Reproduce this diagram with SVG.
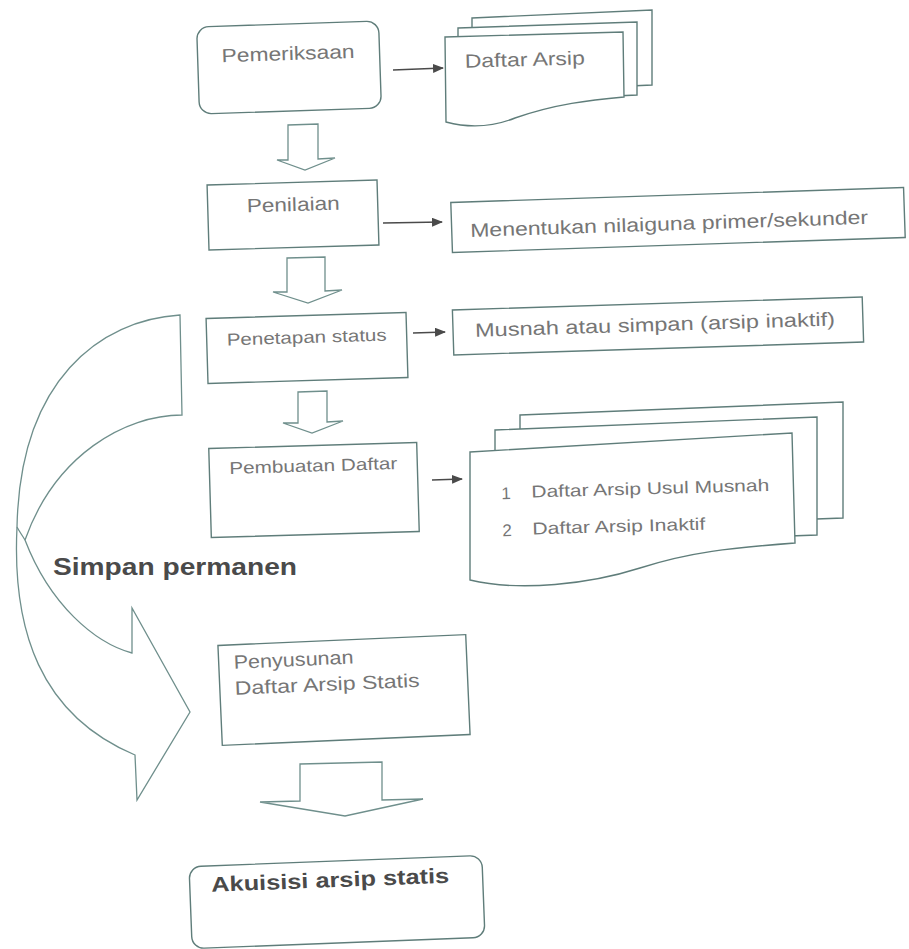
<svg xmlns="http://www.w3.org/2000/svg" width="909" height="949" viewBox="0 0 909 949">
<style>
.box{fill:#fff;stroke:#5f7d7a;stroke-width:1.4}
.shape{fill:#fff;stroke:#6f8f8c;stroke-width:1.3;stroke-linejoin:miter}
.line{fill:none;stroke:#6f8f8c;stroke-width:1.3}
.t{font-family:"Liberation Sans",Arial,sans-serif;fill:#767676}
.b{font-family:"Liberation Sans",Arial,sans-serif;font-weight:bold;fill:#4a4a4a}
.conn{stroke:#4a4a4a;stroke-width:1.6;fill:none}
</style>
<defs>
<marker id="ah" markerUnits="userSpaceOnUse" markerWidth="11" markerHeight="9" refX="10" refY="4.5" orient="auto">
<path d="M0,0 L11,4.5 L0,9 Z" fill="#4a4a4a"/>
</marker>
</defs>
<rect width="909" height="949" fill="#fff"/>

<g id="curved-arrow">
<path class="shape" d="M180,315 C100,320 20,380 17,527 C12,630 40,715 135,755 L137,800 L190,712 L132,608 L132,653 C95,643 50,605 25,540 C55,455 125,415 182,415 Z"/>
<path class="line" d="M25,540 C22,535 19,531 17,527"/>
</g>

<g id="pemeriksaan" transform="rotate(-1.9 289 67)">
<rect class="box" x="198" y="24" width="182" height="87" rx="12"/>
<text class="t" x="222" y="60" font-size="19" textLength="133" lengthAdjust="spacingAndGlyphs">Pemeriksaan</text>
</g>

<g id="daftar-arsip">
<path class="box" d="M472,18 L652,10 L652,85 L472,93 Z"/>
<path class="box" d="M458,28 L637,22 L637,95 L458,103 Z"/>
<path class="box" d="M445,37 L623,32 L624,97 C590,100 555,104 515,118 C490,128 465,127 446,122 Z"/>
<text class="t" x="465" y="66" font-size="19" textLength="120" lengthAdjust="spacingAndGlyphs" transform="rotate(-1.6 525 66)">Daftar Arsip</text>
</g>

<g id="penilaian" transform="rotate(-1.7 293 215)">
<rect class="box" x="208" y="182.5" width="170" height="65"/>
<text class="t" x="247" y="211" font-size="19" textLength="93" lengthAdjust="spacingAndGlyphs">Penilaian</text>
</g>

<g id="menentukan" transform="rotate(-1.9 678 220)">
<rect class="box" x="451.5" y="195" width="453" height="50"/>
<text class="t" x="470" y="230" font-size="19" textLength="398" lengthAdjust="spacingAndGlyphs">Menentukan nilaiguna primer/sekunder</text>
</g>

<g id="penetapan" transform="rotate(-1.7 307 348)">
<rect class="box" x="207" y="315.5" width="200" height="65"/>
<text class="t" x="227" y="343" font-size="17" textLength="160" lengthAdjust="spacingAndGlyphs">Penetapan status</text>
</g>

<g id="musnah" transform="rotate(-1.8 658 326)">
<rect class="box" x="453" y="303.5" width="410" height="45"/>
<text class="t" x="475" y="331" font-size="19" textLength="360" lengthAdjust="spacingAndGlyphs">Musnah atau simpan (arsip inaktif)</text>
</g>

<g id="pembuatan" transform="rotate(-1.65 314 490)">
<rect class="box" x="210" y="445.5" width="208" height="89"/>
<text class="t" x="230" y="471.5" font-size="17" textLength="168" lengthAdjust="spacingAndGlyphs">Pembuatan Daftar</text>
</g>

<g id="daftar-list">
<path class="box" d="M520,415 L843,402 L843,518 L520,530 Z"/>
<path class="box" d="M495,430 L817,417 L817,535 L495,547 Z"/>
<path class="box" d="M470,452 L792,433 L795,543 C730,548 690,552 640,568 C590,584 520,592 470,580 Z"/>
<g transform="rotate(-1.6 620 515)">
<text class="t" x="502" y="496" font-size="17">1</text>
<text class="t" x="532" y="495" font-size="17" textLength="238" lengthAdjust="spacingAndGlyphs">Daftar Arsip Usul Musnah</text>
<text class="t" x="502" y="533" font-size="17">2</text>
<text class="t" x="532" y="532" font-size="17" textLength="173" lengthAdjust="spacingAndGlyphs">Daftar Arsip Inaktif</text>
</g>
</g>

<g id="simpan-permanen">
<text class="b" x="53" y="575" font-size="23" textLength="244" lengthAdjust="spacingAndGlyphs">Simpan permanen</text>
</g>

<g id="penyusunan" transform="rotate(-2.5 344 690)">
<rect class="box" x="220" y="640" width="248" height="100"/>
<text class="t" x="235" y="664" font-size="19" textLength="120" lengthAdjust="spacingAndGlyphs">Penyusunan</text>
<text class="t" x="235" y="690" font-size="19" textLength="185" lengthAdjust="spacingAndGlyphs">Daftar Arsip Statis</text>
</g>

<g id="akuisisi" transform="rotate(-2.2 337 902)">
<rect class="box" x="190.5" y="861" width="293" height="82" rx="12"/>
<text class="b" x="212" y="887" font-size="21" textLength="238" lengthAdjust="spacingAndGlyphs">Akuisisi arsip statis</text>
</g>

<g id="connectors">
<line class="conn" x1="393" y1="70" x2="443" y2="68" marker-end="url(#ah)"/>
<line class="conn" x1="383" y1="223" x2="442" y2="222" marker-end="url(#ah)"/>
<line class="conn" x1="413" y1="333" x2="445" y2="332" marker-end="url(#ah)"/>
<line class="conn" x1="432" y1="480" x2="462" y2="479" marker-end="url(#ah)"/>
<path class="shape" d="M288,125 L318,124 L318,159 L335,158 L305,170 L277,160 L288,160 Z"/>
<path class="shape" d="M287,258 L325,257 L325,291 L342,290 L308,303 L273,292 L287,292 Z"/>
<path class="shape" d="M298,392 L327,391 L327,422 L343,421 L312,433 L283,423 L298,423 Z"/>
<path class="shape" d="M300,764 L382,762 L382,800 L423,799 L345,816 L260,802 L300,801 Z"/>
</g>
</svg>
